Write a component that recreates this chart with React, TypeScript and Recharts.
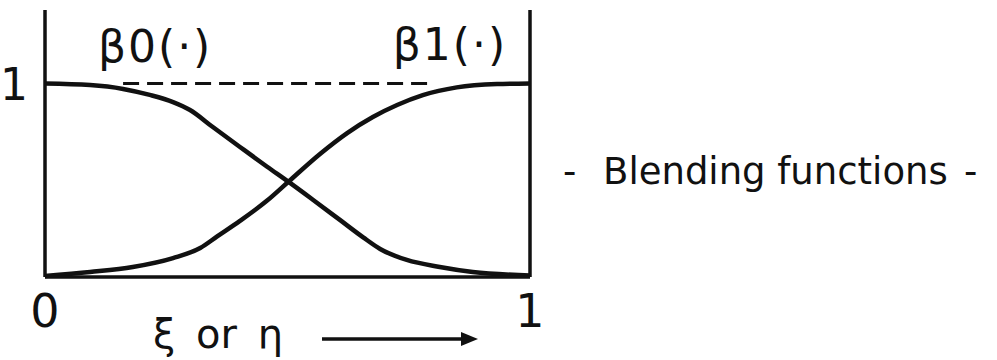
import { LineChart, Line, XAxis, YAxis, ReferenceLine, ReferenceDot } from 'recharts';

const FONT = '"DejaVu Sans", sans-serif';
const INK = '#111';

// β0(·): falls from 1 to 0
const beta0X = [0, 0.093, 0.161, 0.216, 0.264, 0.299, 0.346, 0.402, 0.458, 0.503, 0.553, 0.608, 0.656, 0.691, 0.746, 0.814, 0.882, 1.0];
const beta0Y = [1, 0.992, 0.972, 0.941, 0.904, 0.863, 0.775, 0.672, 0.57, 0.49, 0.398, 0.295, 0.205, 0.145, 0.088, 0.052, 0.026, 0.008];

// β1(·): rises from 0 to 1
const beta1X = [0, 0.093, 0.181, 0.264, 0.32, 0.355, 0.402, 0.458, 0.503, 0.567, 0.623, 0.676, 0.726, 0.779, 0.849, 0.932, 1.0];
const beta1Y = [0.005, 0.026, 0.052, 0.098, 0.15, 0.21, 0.29, 0.395, 0.495, 0.636, 0.744, 0.827, 0.889, 0.94, 0.98, 0.997, 1.0];

const dashX = [0.161, 0.8];
const dashLevel = 1;

const xTicks = [0, 1];
const yTicks = [1];
const seriesLabels = ['β0(·)', 'β1(·)'];
const labelPos = [
  { x: 0.227, y: 1.19 },
  { x: 0.835, y: 1.2 },
];
const axisLabel = 'ξ or η';
const title = 'Blending functions';

const beta0 = beta0X.map((x, i) => ({ x, y: beta0Y[i] }));
const beta1 = beta1X.map((x, i) => ({ x, y: beta1Y[i] }));

const XTick = ({ x, y, payload }: any) => (
  <text x={x} y={y} dy={50} textAnchor="middle" fontSize={46} fontFamily={FONT} fill={INK}>
    {payload.value}
  </text>
);

const YTick = ({ x, y, payload }: any) => (
  <text x={x - 31} y={y} dy={16} textAnchor="middle" fontSize={44} fontFamily={FONT} fill={INK}>
    {payload.value}
  </text>
);

const AxisCaption = ({ viewBox }: any) => {
  const { x, y } = viewBox;
  const ay = y + 62;
  return (
    <g>
      <text x={x + 108} y={y + 71} fontSize={40} fontFamily={FONT} fill={INK} wordSpacing={8}>
        {axisLabel}
      </text>
      <line x1={x + 277} y1={ay} x2={x + 420} y2={ay} stroke={INK} strokeWidth={3.5} />
      <polygon points={`${x + 433},${ay} ${x + 416},${ay - 7} ${x + 416},${ay + 7}`} fill={INK} />
    </g>
  );
};

export default function App() {
  return (
    <div style={{ position: 'absolute', left: 0, top: 0, width: 997, height: 360, background: '#fff' }}>
      <LineChart width={997} height={360} margin={{ top: 10, right: 467, bottom: 0, left: 5 }}>
        <XAxis
          type="number"
          dataKey="x"
          domain={[0, 1]}
          ticks={xTicks}
          tick={<XTick />}
          tickLine={false}
          tickSize={0}
          tickMargin={0}
          height={83}
          axisLine={{ stroke: INK, strokeWidth: 3.5 }}
          label={<AxisCaption />}
        />
        <YAxis
          type="number"
          domain={[0, 1.38]}
          ticks={yTicks}
          tick={<YTick />}
          tickLine={false}
          tickSize={0}
          tickMargin={0}
          width={40}
          axisLine={{ stroke: INK, strokeWidth: 3.5 }}
        />
        <ReferenceLine x={1} stroke={INK} strokeWidth={3.5} />
        <ReferenceLine
          segment={[
            { x: dashX[0], y: dashLevel },
            { x: dashX[1], y: dashLevel },
          ]}
          stroke={INK}
          strokeWidth={3}
          strokeDasharray="16 8"
        />
        <Line data={beta0} dataKey="y" type="monotone" stroke={INK} strokeWidth={4.5} dot={false} isAnimationActive={false} />
        <Line data={beta1} dataKey="y" type="monotone" stroke={INK} strokeWidth={4.5} dot={false} isAnimationActive={false} />
        {seriesLabels.map((s, i) => (
          <ReferenceDot
            key={s}
            x={labelPos[i].x}
            y={labelPos[i].y}
            r={0}
            stroke="none"
            fill="none"
            label={{ value: s, position: 'center', fontSize: 44, fontFamily: FONT, fill: INK, letterSpacing: 2 }}
          />
        ))}
      </LineChart>
      <svg width={997} height={360} style={{ position: 'absolute', left: 0, top: 0, pointerEvents: 'none' }}>
        <text y={184} fontSize={37} fontFamily={FONT} fill={INK}>
          <tspan x={563}>-</tspan>
          <tspan x={603}>{title}</tspan>
          <tspan x={964}>-</tspan>
        </text>
      </svg>
    </div>
  );
}
